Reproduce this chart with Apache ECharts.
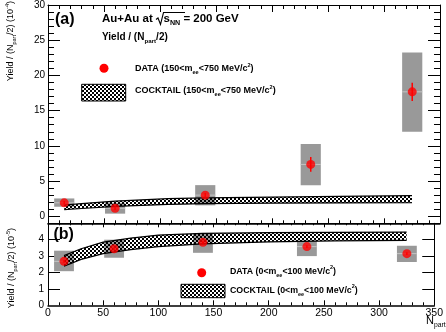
<!DOCTYPE html>
<html><head><meta charset="utf-8">
<script src="https://cdn.jsdelivr.net/npm/echarts@6/dist/echarts.min.js"></script>
<style>html,body{margin:0;padding:0;background:#fff}#c{width:446px;height:332px}</style>
</head><body><div id="c"></div>
<script>
// ---------- data ----------
const nPart = [14.5, 59.9, 140.4, 234.6, 325.2];
// panel (a): 150<mee<750 MeV/c2, units 1e-4
const dataA  = [1.91, 1.13, 3.00, 7.36, 17.67];
const statA  = [0.25, 0.25, 0.30, 1.05, 1.30];
const sysLoA = [1.35, 0.37, 1.55, 4.40, 12.0];
const sysHiA = [2.53, 1.91, 4.42, 10.27, 23.25];
const cockXA  = [14.5, 30, 60, 107, 140, 200, 260, 325];
const cockHiA = [1.60, 1.80, 2.15, 2.50, 2.60, 2.72, 2.82, 2.93];
const cockLoA = [0.95, 1.10, 1.40, 1.68, 1.78, 1.87, 1.90, 1.92];
// panel (b): 0<mee<100 MeV/c2, units 1e-5
const dataB  = [2.68, 3.45, 3.84, 3.58, 3.15];
const statB  = [0.08, 0.08, 0.08, 0.08, 0.08];
const sysLoB = [2.08, 2.90, 3.20, 3.00, 2.64];
const sysHiB = [3.33, 4.00, 4.40, 3.94, 3.63];
const cockXB  = [14.5, 30, 50, 75, 100, 140, 200, 260, 325];
const cockHiB = [3.03, 3.45, 3.85, 4.10, 4.28, 4.38, 4.43, 4.45, 4.46];
const cockLoB = [2.38, 2.80, 3.15, 3.40, 3.58, 3.75, 3.87, 3.93, 3.96];
// ticks
const yMajorA = [0, 5, 10, 15, 20, 25, 30];
const yMinorA = [-1,0,1,2,3,4,5,6,7,8,9,10,11,12,13,14,15,16,17,18,19,20,21,22,23,24,25,26,27,28,29,30];
const yLabelsB = [0, 1, 2, 3, 4];
const yTicksB = [1, 2, 3, 4];

// ---------- styles ----------
const FONT = "'Liberation Sans', Arial, Helvetica, sans-serif";
const BOX_HALF = 9;
function makePattern(){
  const c = document.createElement('canvas'); c.width = 4; c.height = 4;
  const g = c.getContext('2d'); g.fillStyle = '#000';
  g.fillRect(0,0,2,2); g.fillRect(2,2,2,2);
  return c;
}
const PAT = {image: makePattern(), repeat: 'repeat'};

const chart = echarts.init(document.getElementById('c'), null, {renderer:'canvas'});

function xAx(grid, pos, major, minor, lw, labels){
  return {gridIndex:grid, type:'value', min:0, max:350, interval:50, position:pos,
    axisLine:{show:true, onZero:false, lineStyle:{color:'#000', width:lw}},
    axisTick:{show:true, inside:true, length:major, lineStyle:{color:'#000', width:1}},
    minorTick:{show:true, splitNumber:5, length:minor, lineStyle:{color:'#000', width:1}},
    splitLine:{show:false}, minorSplitLine:{show:false},
    axisLabel:{show:labels, margin:2, color:'#000', fontSize:10.5, fontFamily:FONT}};
}
function yAx(grid, pos, min, max, ticks, len, labels, line, margin){
  return {gridIndex:grid, type:'value', min:min, max:max, position:pos,
    axisLine:{show:line, onZero:false, lineStyle:{color:'#000', width:1}},
    axisTick:{show:true, inside:true, length:len, customValues:ticks, lineStyle:{color:'#000', width:1}},
    splitLine:{show:false},
    axisLabel: labels ? {show:true, customValues:labels, margin:margin, color:'#000', fontSize:10, fontFamily:FONT} : {show:false}};
}

function bandSeries(xs, lo, hi, xi, yi){
  return {type:'custom', xAxisIndex:xi, yAxisIndex:yi, data:[0], z:3, silent:true,
    renderItem(p, api){
      const up = xs.map((x,i)=>api.coord([x, hi[i]]));
      const dn = xs.map((x,i)=>api.coord([x, lo[i]]));
      return {type:'group', children:[
        {type:'polygon', shape:{points: up.concat(dn.slice().reverse())}, style:{fill:PAT}},
        {type:'polyline', shape:{points:up}, style:{stroke:'#000', lineWidth:1.2, fill:null}},
        {type:'polyline', shape:{points:dn}, style:{stroke:'#000', lineWidth:1.2, fill:null}}
      ]};
    }};
}
function boxSeries(lo, hi, val, xi, yi){
  return {type:'custom', xAxisIndex:xi, yAxisIndex:yi, z:2, silent:true,
    data: nPart.map((x,i)=>[x, lo[i], hi[i], val[i]]),
    renderItem(p, api){
      const x = api.value(0);
      const a = api.coord([x-BOX_HALF, api.value(2)]);
      const b = api.coord([x+BOX_HALF, api.value(1)]);
      const m = api.coord([x, api.value(3)]);
      return {type:'group', children:[
        {type:'rect', shape:{x:a[0], y:a[1], width:b[0]-a[0], height:b[1]-a[1]}, style:{fill:'#999999'}},
        {type:'line', shape:{x1:a[0], y1:m[1], x2:b[0], y2:m[1]}, style:{stroke:'#c4c4c4', lineWidth:1}}
      ]};
    }};
}
function errSeries(val, err, xi, yi){
  return {type:'custom', xAxisIndex:xi, yAxisIndex:yi, z:4, silent:true,
    data: nPart.map((x,i)=>[x, val[i]-err[i], val[i]+err[i]]),
    renderItem(p, api){
      const a = api.coord([api.value(0), api.value(1)]);
      const b = api.coord([api.value(0), api.value(2)]);
      return {type:'line', shape:{x1:a[0], y1:a[1], x2:b[0], y2:b[1]}, style:{stroke:'#ff0000', lineWidth:1.5}};
    }};
}
function ptSeries(val, xi, yi){
  return {type:'scatter', xAxisIndex:xi, yAxisIndex:yi, z:5, silent:true, symbol:'circle', symbolSize:9,
    itemStyle:{color:'#ff0000'}, data: nPart.map((x,i)=>[x, val[i]])};
}

const T = (s)=>Object.assign({fontFamily:FONT, fill:'#000'}, s);
const boldRich = (fs)=>({
  b: T({fontWeight:'bold', fontSize:fs, lineHeight:fs+4}),
  sub: T({fontWeight:'bold', fontSize:fs*0.62, lineHeight:fs*0.7, verticalAlign:'bottom'}),
  sup: T({fontWeight:'bold', fontSize:fs*0.62, lineHeight:fs*0.7, verticalAlign:'top'})
});
const regRich = (fs)=>({
  t: T({fontSize:fs, lineHeight:fs+4}),
  sub: T({fontSize:fs*0.62, lineHeight:fs*0.7, verticalAlign:'bottom'}),
  sup: T({fontSize:fs*0.62, lineHeight:fs*0.7, verticalAlign:'top'})
});
function rtext(x, y, txt, rich, align, rot){
  return {type:'text', x:x, y:y, rotation:rot||0, silent:true, z:10,
    style:{text:txt, rich:rich, textAlign:align||'left', textVerticalAlign:'middle', fontFamily:FONT, fill:'#000'}};
}

const option = {
  animation:false,
  backgroundColor:'#fff',
  grid:[
    {left:48, right:6, top:3, height:220.3},
    {left:48, right:6, top:223.3, height:82}
  ],
  xAxis:[
    xAx(0,'bottom',5,3,1.5,false),
    xAx(0,'top',7,4,1,false),
    xAx(1,'bottom',5,3,1.5,true),
    xAx(1,'top',4,2,1,false)
  ],
  yAxis:[
    yAx(0,'left',-1,30,yMajorA,12,yMajorA,true,3),
    yAx(0,'left',-1,30,yMinorA,6,null,false),
    yAx(0,'right',-1,30,yMajorA,12,null,true),
    yAx(0,'right',-1,30,yMinorA,6,null,false),
    yAx(1,'left',0,5,yTicksB,12,yLabelsB,true,4),
    yAx(1,'right',0,5,yTicksB,12,null,true)
  ],
  series:[
    boxSeries(sysLoA, sysHiA, dataA, 0, 0),
    bandSeries(cockXA, cockLoA, cockHiA, 0, 0),
    errSeries(dataA, statA, 0, 0),
    ptSeries(dataA, 0, 0),
    boxSeries(sysLoB, sysHiB, dataB, 2, 4),
    bandSeries(cockXB, cockLoB, cockHiB, 2, 4),
    errSeries(dataB, statB, 2, 4),
    ptSeries(dataB, 2, 4)
  ],
  graphic:[
    rtext(55, 20, '{b|(a)}', boldRich(16)),
    rtext(53.5, 235, '{b|(b)}', boldRich(16)),
    rtext(102, 19, '{b|Au+Au at}', boldRich(11.5)),
    {type:'polyline', silent:true, z:10, shape:{points:[[156,19.5],[158,18],[160.5,24.5],[163.5,12.5],[185,12.5]]}, style:{stroke:'#000', lineWidth:1.1, fill:null}},
    rtext(163.5, 19, '{b|s}{sub|NN}{b| = 200 GeV}', boldRich(11.5)),
    rtext(102, 37.5, '{b|Yield / (N}{sub|part}{b|/2)}', boldRich(10)),
    {type:'circle', silent:true, z:10, shape:{cx:104, cy:68.3, r:4.5}, style:{fill:'#ff0000'}},
    rtext(135, 68.5, '{b|DATA (150<m}{sub|ee}{b|<750 MeV/c}{sup|2}{b|)}', boldRich(9)),
    {type:'rect', silent:true, z:10, shape:{x:81.7, y:84.3, width:44, height:16.7}, style:{fill:PAT, stroke:'#000', lineWidth:1}},
    rtext(135, 91, '{b|COCKTAIL (150<m}{sub|ee}{b|<750 MeV/c}{sup|2}{b|)}', boldRich(9)),
    {type:'circle', silent:true, z:10, shape:{cx:201.7, cy:272.7, r:4.5}, style:{fill:'#ff0000'}},
    rtext(230, 271.5, '{b|DATA (0<m}{sub|ee}{b|<100 MeV/c}{sup|2}{b|)}', boldRich(8.8)),
    {type:'rect', silent:true, z:10, shape:{x:181, y:284.3, width:44, height:13.4}, style:{fill:PAT, stroke:'#000', lineWidth:1}},
    rtext(230, 290.5, '{b|COCKTAIL (0<m}{sub|ee}{b|<100 MeV/c}{sup|2}{b|)}', boldRich(8.8)),
    rtext(11, 1, '{t|Yield / (N}{sub|part}{t|/2) (10}{sup|-4}{t|)}', regRich(9), 'right', Math.PI/2),
    rtext(12, 228, '{t|Yield / (N}{sub|part}{t|/2) (10}{sup|-5}{t|)}', regRich(9), 'right', Math.PI/2),
    rtext(426, 321, '{t|N}{sub|part}', regRich(11))
  ]
};
chart.setOption(option);
</script></body></html>
